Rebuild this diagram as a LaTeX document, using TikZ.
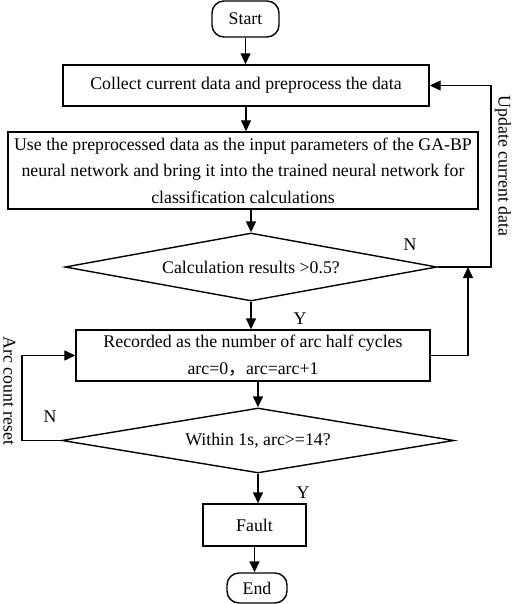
\documentclass[tikz,border=0pt]{standalone}
\usepackage{fontspec}
\setmainfont{Liberation Serif}
\newfontfamily\cjk{Noto Sans CJK SC}
\usetikzlibrary{shapes.geometric,arrows.meta}
\begin{document}
\begin{tikzpicture}[x=1bp,y=-1bp,
  every node/.style={font=\fontsize{17.8bp}{26.5bp}\selectfont},
  box/.style={draw,line width=1.4bp,rectangle,inner sep=0pt,align=center},
  term/.style={box,rounded corners=12bp},
  dec/.style={draw,line width=1.4bp,diamond,inner sep=0pt,aspect=5.5},
  line/.style={line width=1.4bp},
  arr/.style={line,-{Triangle[length=11bp,width=10bp]}},
  lbl/.style={inner sep=0pt}]
\useasboundingbox (0,0) rectangle (512,604);
\node[term,minimum width=67bp,minimum height=36bp] (start) at (245.5,19) {Start};
\node[box,minimum width=366bp,minimum height=41bp] (collect) at (246,85.5) {Collect current data and preprocess the data};
\node[box,minimum width=470bp,minimum height=77bp] (nn) at (243,170.5) {Use the preprocessed data as the input parameters of the GA-BP\\neural network and bring it into the trained neural network for\\classification calculations};
\node[dec,minimum width=372bp,minimum height=68bp] (dec1) at (251,267) {Calculation results >0.5?};
\node[box,minimum width=354bp,minimum height=51bp] (rec) at (253,355.5) {Recorded as the number of arc half cycles\\arc=0{\cjk ，}arc=arc+1};
\node[dec,minimum width=392bp,minimum height=65bp] (dec2) at (258,440.5) {Within 1s, arc>=14?};
\node[box,minimum width=103bp,minimum height=42bp] (fault) at (254.5,525) {Fault};
\node[term,minimum width=60bp,minimum height=30bp] (end) at (257,588) {End};
\coordinate (r1) at (491,267);
\coordinate (r2) at (468,267);
\coordinate (l1) at (22,440.5);
\draw[arr] (start.south) -- (start.south |- collect.north);
\draw[arr] (collect.south) -- (collect.south |- nn.north);
\draw[arr] (dec1.north |- nn.south) -- (dec1.north);
\draw[arr] (dec1.south) -- (dec1.south |- rec.north);
\draw[arr] (dec2.north |- rec.south) -- (dec2.north);
\draw[arr] (dec2.south) -- (dec2.south |- fault.north);
\draw[arr] (fault.south) -- (fault.south |- end.north);
\draw[arr] (dec1.east) -- (r1) |- (collect.east);
\draw[arr] (rec.east) -| (r2);
\draw[arr] (dec2.west) -- (l1) |- (rec.west);
\node[lbl] (n1) at (410,245) {N};
\node[lbl] (y1) at (300,319) {Y};
\node[lbl] (n2) at (50,417) {N};
\node[lbl] (y2) at (303,493) {Y};
\node[lbl,rotate=-90] (upd) at (503,166) {Update current data};
\node[lbl,rotate=-90] (acr) at (9.5,391) {Arc count reset};
\end{tikzpicture}
\end{document}
